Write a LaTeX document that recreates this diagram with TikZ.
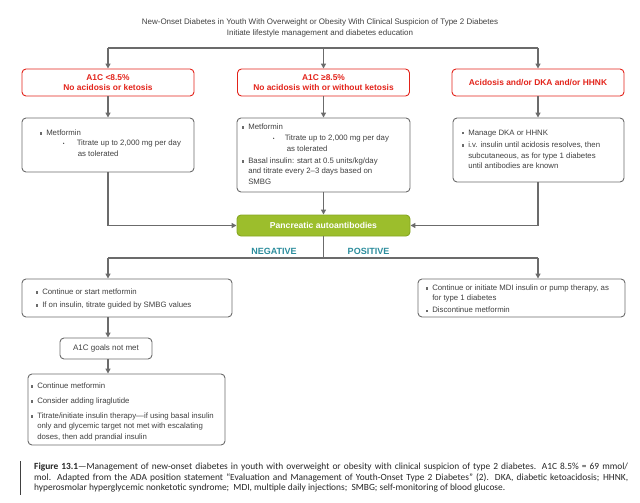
\documentclass[tikz,border=0pt]{standalone}
\usepackage{fontspec}
\setmainfont{Liberation Sans}
\newfontfamily\capfont{Carlito}
\usetikzlibrary{arrows.meta,positioning}
\tikzset{line cap=round,line join=round}
\definecolor{alertred}{HTML}{E2231A}
\definecolor{boxgrey}{HTML}{6B6B6B}
\definecolor{textgrey}{HTML}{404040}
\definecolor{padgreen}{HTML}{9CBE2C}
\definecolor{padedge}{HTML}{86A622}
\definecolor{signteal}{HTML}{2B8C9C}
\tikzset{
    redbox/.style={draw=alertred,line width=.9pt,rounded corners=4pt,text=alertred,
        font=\fontsize{8.4}{10}\selectfont\bfseries,align=center,inner sep=0pt,
        minimum width=172pt,minimum height=27pt},
    greybox/.style={draw=boxgrey,line width=.9pt,rounded corners=4pt,inner sep=0pt},
    boxtext/.style={inner sep=0pt,align=left,text=textgrey,font=\fontsize{7.8}{10.5}\selectfont},
    greenbox/.style={draw=padedge,line width=.9pt,rounded corners=4pt,fill=padgreen,text=white,
        font=\fontsize{8.6}{10}\selectfont\bfseries,inner sep=0pt,
        minimum width=173pt,minimum height=21pt},
    signlabel/.style={text=signteal,font=\fontsize{9}{10}\selectfont\bfseries,inner sep=0pt},
    conn/.style={draw=boxgrey,line width=1.8pt},
    arr/.style={conn,-{Triangle[length=5pt,width=5pt]}},
}
\newcommand\sqb{\textcolor{boxgrey}{\rule[.8pt]{2.4pt}{2.4pt}}}
\newcommand\itm{\makebox[6.5pt][l]{\sqb}}
\newcommand\contln{\hspace*{6.5pt}}
\newcommand\subdot[2]{\hspace*{#1}\makebox[#2][l]{{\fontsize{5}{5}\selectfont\textbullet}}}

\begin{document}
\begin{tikzpicture}[x=1pt,y=-1pt]
    \useasboundingbox (0,0) rectangle (640,503);
    \node[name=title,align=center,text=textgrey,font=\fontsize{8}{10.5}\selectfont] at (320,28)
        {New-Onset Diabetes in Youth With Overweight or Obesity With Clinical Suspicion of Type 2 Diabetes\\
         Initiate lifestyle management and diabetes education};
    % first split
    \foreach \i/\x/\txt in {1/108/{A1C <8.5\%\\No acidosis or ketosis},
                            2/323.5/{A1C ≥8.5\%\\No acidosis with or without ketosis},
                            3/538/{Acidosis and/or DKA and/or HHNK}}
        \node[name=r\i,redbox] at (\x,82.5) {\txt};
    \foreach \n/\x/\y/\w/\h in {g1/108/145/172/54,g2/323.5/155/173/74,g3/538.5/150/171/64}
        \node[name=\n,greybox,minimum width=\w,minimum height=\h] at (\x,\y) {};
    \node[name=g1t,boxtext,below right=12pt and 18pt of g1.north west]
        {\itm Metformin\\
         \subdot{23pt}{14pt}Titrate up to 2,000 mg per day\\
         \hspace*{38pt}as tolerated};
    \node[name=g2t,boxtext,below right=6pt and 5pt of g2.north west]
        {\itm Metformin\\[1pt]
         \subdot{31pt}{12pt}Titrate up to 2,000 mg per day\\
         \hspace*{45pt}as tolerated\\[1.5pt]
         \itm Basal insulin: start at 0.5 units/kg/day\\
         \contln and titrate every 2–3 days based on\\
         \contln SMBG};
    \node[name=g3t,boxtext,below right=12pt and 9pt of g3.north west]
        {\itm Manage DKA or HHNK\\[2pt]
         \itm i.v. insulin until acidosis resolves, then\\
         \contln subcutaneous, as for type 1 diabetes\\
         \contln until antibodies are known};
    \node[name=pa,greenbox] at (323.5,225.5) {Pancreatic autoantibodies};
    \coordinate (top-l) at (108,48);
    \coordinate (top-r) at (538,48);
    \draw[conn] (top-l) -- (top-r);
    \foreach \i in {1,2,3}{%
        \draw[arr] (r\i |- top-l) -- (r\i.north);
        \draw[arr] (r\i) -- (r\i |- g\i.north);
    }
    \draw[arr] (g1) |- (pa);
    \draw[arr] (g2) -- (pa);
    \draw[arr] (g3.south -| r3) |- (pa);
    % antibody result
    \coordinate (split-l) at (108,258);
    \coordinate (split-r) at (538,258);
    \draw[conn] (pa) -- (pa |- split-l);
    \draw[conn] (split-l) -- (split-r);
    \node[name=neglbl,signlabel] at (274,251) {NEGATIVE};
    \node[name=poslbl,signlabel] at (368.5,251) {POSITIVE};
    \node[name=neg,greybox,minimum width=210,minimum height=38] at (127,298) {};
    \node[name=pos,greybox,minimum width=207,minimum height=38] at (521.5,298) {};
    \draw[arr] (split-l) -- (split-l |- neg.north);
    \draw[arr] (split-r) -- (split-r |- pos.north);
    \node[name=negt,boxtext,below right=10pt and 14pt of neg.north west]
        {\itm Continue or start metformin\\[2.5pt]
         \itm If on insulin, titrate guided by SMBG values};
    \node[name=post,boxtext,below right=6pt and 8pt of pos.north west]
        {\itm Continue or initiate MDI insulin or pump therapy, as\\
         \contln for type 1 diabetes\\[1.5pt]
         \itm Discontinue metformin};
    \node[name=goal,greybox,text=textgrey,font=\fontsize{8}{10}\selectfont,
        minimum width=92,minimum height=21] at (106,348.5) {A1C goals not met};
    \node[name=fin,greybox,minimum width=197,minimum height=71] at (126.5,409.5) {};
    \draw[arr] (split-l |- neg.south) -- (split-l |- goal.north);
    \draw[arr] (split-l |- goal.south) -- (split-l |- fin.north);
    \node[name=fint,boxtext,below right=9pt and 3pt of fin.north west]
        {\itm Continue metformin\\[4.5pt]
         \itm Consider adding liraglutide\\[4.5pt]
         \itm Titrate/initiate insulin therapy—if using basal insulin\\
         \contln only and glycemic target not met with escalating\\
         \contln doses, then add prandial insulin};
    % caption
    \draw[line width=1pt,textgrey] (20,461) -- (20,495);
    \node[name=cap,anchor=north west,inner sep=0pt,align=left,text=black!85,
        font=\capfont\fontsize{9.4}{10.2}\selectfont] at (34,463)
        {\makebox[594pt][s]{\textbf{Figure 13.1}—Management of new-onset diabetes in youth with overweight or obesity with clinical suspicion of type 2 diabetes. A1C 8.5\% = 69 mmol/}\\
         \makebox[594pt][s]{mol. Adapted from the ADA position statement “Evaluation and Management of Youth-Onset Type 2 Diabetes” (2). DKA, diabetic ketoacidosis; HHNK,}\\
         hyperosmolar hyperglycemic nonketotic syndrome; \ MDI, multiple daily injections; \ SMBG; self-monitoring of blood glucose.};
\end{tikzpicture}
\end{document}
